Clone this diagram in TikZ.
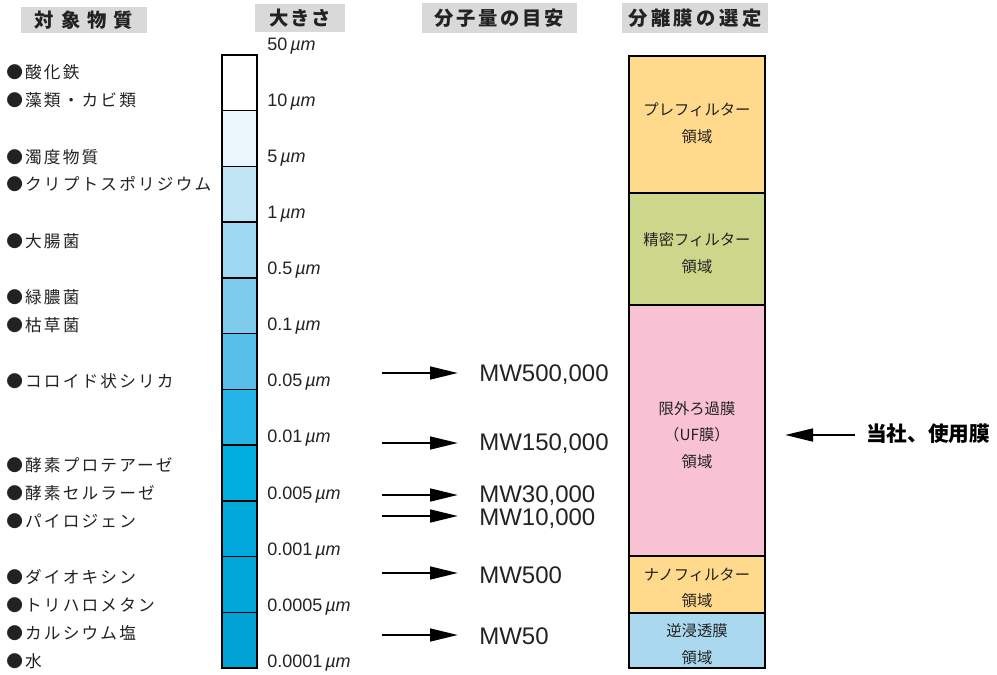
\documentclass[tikz,border=0pt]{standalone}
\usepackage{fontspec}
\setmainfont{Liberation Sans}
\newfontfamily\jp{Noto Sans CJK JP}
\newfontfamily\jpls{Noto Sans CJK JP}[LetterSpace=13]
\usetikzlibrary{arrows.meta,calc}
\definecolor{txt}{HTML}{222222}
\definecolor{hdr}{HTML}{D9D9D9}
\definecolor{b1}{HTML}{FFFFFF}
\definecolor{b2}{HTML}{EBF6FC}
\definecolor{b3}{HTML}{C2E5F6}
\definecolor{b4}{HTML}{9ED8F1}
\definecolor{b5}{HTML}{7DCCEE}
\definecolor{b6}{HTML}{56C0EA}
\definecolor{b7}{HTML}{25B4E6}
\definecolor{b8}{HTML}{00AEE0}
\definecolor{b9}{HTML}{00A9DB}
\definecolor{b10}{HTML}{00A6D8}
\definecolor{b11}{HTML}{00A3D4}
\definecolor{pre}{HTML}{FFD98C}
\definecolor{mf}{HTML}{CDD78B}
\definecolor{uf}{HTML}{F9C2D4}
\definecolor{ro}{HTML}{A9D8EF}
\tikzset{
  hbox/.style={fill=hdr,inner sep=0pt,text=txt,font=\jp\bfseries\fontsize{14.5}{16}\selectfont},
  item/.style={anchor=west,inner sep=0pt,text=txt,font=\jpls\fontsize{12.5}{14}\selectfont},
  size/.style={anchor=west,inner sep=0pt,text=txt,font=\fontsize{13.5}{15}\selectfont},
  mw/.style={anchor=west,inner sep=0pt,text=txt,font=\fontsize{18}{20}\selectfont},
  seg/.style={draw=black,line width=1.1pt},
  zone/.style={align=center,inner sep=0pt,text=txt,font=\jp\fontsize{11.5}{20}\selectfont},
  arr/.style={line width=2pt,-{Triangle[length=21pt,width=9.5pt]}},
}
\newcommand{\um}{\,\textit{µm}}
\begin{document}
\begin{tikzpicture}[x=0.75pt,y=-0.75pt]
\useasboundingbox (0,0) rectangle (997,675);
% headers
\node[hbox,minimum width=94.5pt,minimum height=19.5pt] (h1) at (84,20) {\addfontfeature{LetterSpace=36}対象物質};
\node[hbox,minimum width=67.5pt,minimum height=21pt] (h2) at (300,18) {\addfontfeature{LetterSpace=10}大きさ};
\node[hbox,minimum width=116pt,minimum height=22.5pt] (h3) at (499.5,18) {\addfontfeature{LetterSpace=14}分子量の目安};
\node[hbox,minimum width=109.5pt,minimum height=22.5pt] (h4) at (695,18) {\addfontfeature{LetterSpace=18}分離膜の選定};
% left items
\node[item] (i1) at (6,72) {●酸化鉄};
\node[item] (i2) at (6,100) {●藻類・カビ類};
\node[item] (i3) at (6,157) {●濁度物質};
\node[item] (i4) at (6,184) {●クリプトスポリジウム};
\node[item] (i5) at (6,241) {●大腸菌};
\node[item] (i6) at (6,297) {●緑膿菌};
\node[item] (i7) at (6,325) {●枯草菌};
\node[item] (i8) at (6,381) {●コロイド状シリカ};
\node[item] (i9) at (6,465) {●酵素プロテアーゼ};
\node[item] (i10) at (6,493) {●酵素セルラーゼ};
\node[item] (i11) at (6,521) {●パイロジェン};
\node[item] (i12) at (6,577) {●ダイオキシン};
\node[item] (i13) at (6,605) {●トリハロメタン};
\node[item] (i14) at (6,633) {●カルシウム塩};
\node[item] (i15) at (6,661) {●水};
% size bar
\foreach \i/\c in {0/b1,1/b2,2/b3,3/b4,4/b5,5/b6,6/b7,7/b8,8/b9,9/b10,10/b11}{
  \draw[seg,fill=\c] (222,{55+\i*55.73}) rectangle (257,{55+(\i+1)*55.73});
}
\node[size] (s1) at (267,46) {50\um};
\node[size] (s2) at (267,102) {10\um};
\node[size] (s3) at (267,158) {5\um};
\node[size] (s4) at (267,214) {1\um};
\node[size] (s5) at (267,270) {0.5\um};
\node[size] (s6) at (267,326) {0.1\um};
\node[size] (s7) at (267,382) {0.05\um};
\node[size] (s8) at (267,438) {0.01\um};
\node[size] (s9) at (267,495) {0.005\um};
\node[size] (s10) at (267,551) {0.001\um};
\node[size] (s11) at (267,607) {0.0005\um};
\node[size] (s12) at (267,663) {0.0001\um};
% molecular weight
\node[mw] (m1) at (479,375) {MW500,000};
\node[mw] (m2) at (479,444) {MW150,000};
\node[mw] (m3) at (479,496) {MW30,000};
\node[mw] (m4) at (479,519) {MW10,000};
\node[mw] (m5) at (479,575) {MW500};
\node[mw] (m6) at (479,636) {MW50};
\coordinate (a1) at (382,373);
\coordinate (a2) at (382,443);
\coordinate (a3) at (382,495);
\coordinate (a4) at (382,516);
\coordinate (a5) at (382,573);
\coordinate (a6) at (382,635);
\foreach \k in {1,...,6}{
  \draw[arr] (a\k) -- ($(a\k)+(76,0)$);
}
% membrane zones
\draw[seg,fill=pre] (629,56) rectangle (765,193);
\draw[seg,fill=mf] (629,193) rectangle (765,305);
\draw[seg,fill=uf] (629,305) rectangle (765,556);
\draw[seg,fill=pre] (629,556) rectangle (765,613);
\draw[seg,fill=ro] (629,613) rectangle (765,668);
\node[zone] (z1) at (697,123) {プレフィルター\\領域};
\node[zone] (z2) at (697,253) {精密フィルター\\領域};
\node[zone] (z3) at (697,435) {限外ろ過膜\\（UF膜）\\領域};
\node[zone] (z4) at (697,588) {ナノフィルター\\領域};
\node[zone] (z5) at (697,644) {逆浸透膜\\領域};
% our membrane
\node[anchor=west,inner sep=0pt,font=\jp\bfseries\fontsize{15.5}{17}\selectfont] (us) at (866,434) {当社、使用膜};
\draw[arr] ($(us.west)+(-11,1)$) -- ($(us.west)+(-81,1)$);
\end{tikzpicture}
\end{document}
